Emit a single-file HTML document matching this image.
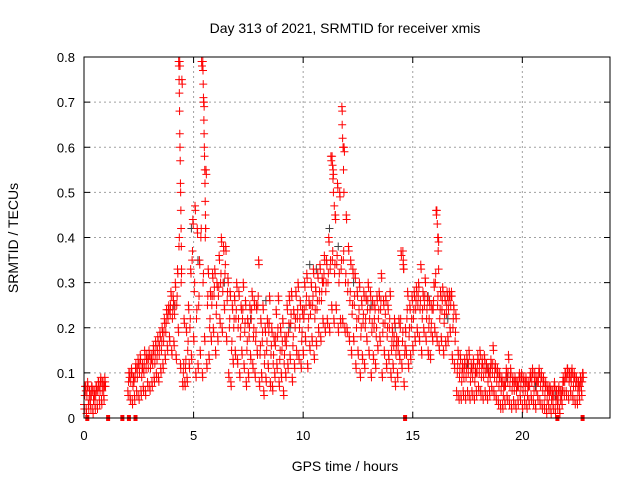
<!DOCTYPE html>
<html><head><meta charset="utf-8"><style>
body{margin:0;background:#fff}
svg{display:block;font-family:"Liberation Sans",sans-serif}
</style></head><body>
<svg id="chart" width="640" height="480" viewBox="0 0 640 480">
<rect width="640" height="480" fill="#fff"/>
<text x="345" y="33" font-size="14" text-anchor="middle">Day 313 of 2021, SRMTID for receiver xmis</text>
<text x="345" y="471" font-size="14" text-anchor="middle">GPS time / hours</text>
<text transform="translate(18,238) rotate(-90)" font-size="14" text-anchor="middle">SRMTID / TECUs</text>
<g id="grid"></g>
<g id="gray"></g>
<g id="red"></g>
<g id="zeros"></g>
<rect x="84" y="57" width="526" height="361" fill="none" stroke="#000" stroke-width="1"/>
<g id="axes"></g>
</svg>
<script>
const xTicks=[0,5,10,15,20];
const yTicks=[0,0.1,0.2,0.3,0.4,0.5,0.6,0.7,0.8];
const yLabels=["0","0.1","0.2","0.3","0.4","0.5","0.6","0.7","0.8"];
// red series: per-hour strings, each 0.1h sample "lo mid hi" in hundredths of TECU
const hourStarts=[0,2,3,4,5,6,7,8,9,10,11,12,13,14,15,16,17,18,19,20,21,22];
const redHours=[
"3 5 7;2 5 8;3 4 6;3 5 7;2 4 6;3 5 7;3 6 8;4 6 9;4 6 8;5 7 8",
"6 8 10;5 8 11;4 7 9;5 9 12;6 9 13;5 10 14;6 9 12;7 10 15;6 11 14;8 11 15",
"7 11 14;8 12 16;9 12 17;10 13 18;9 14 19;11 15 20;12 17 22;14 19 24;16 22 25;18 23 28",
"15 22 27;17 23 30;14 25 33;20 38 79;12 30 75;8 10 22;8 11 20;9 15 25;12 20 33;14 35 44",
"18 28 47;10 22 42;12 25 35;15 40 79;10 30 70;18 40 55;12 25 33;14 20 28;18 25 32;20 27 33",
"15 23 30;18 27 36;22 30 40;20 28 38;25 32 38;18 26 31;10 20 28;8 15 25;13 20 27;15 22 30",
"13 20 28;10 18 25;15 22 30;12 19 26;8 15 22;10 18 25;14 22 28;12 18 26;10 17 25;15 25 35",
"8 14 22;10 17 25;6 12 20;9 15 22;12 19 27;8 14 20;7 12 18;10 16 24;12 18 27;8 13 20",
"10 15 22;6 12 18;10 16 25;12 19 27;14 21 28;9 16 24;12 20 28;15 22 30;14 20 26;12 17 24",
"15 22 30;18 25 32;12 20 26;16 23 30;18 25 33;14 22 29;17 24 32;20 26 34;18 26 31;22 30 36",
"20 28 35;22 30 40;20 33 58;25 35 55;22 32 45;25 34 52;20 30 50;22 33 69;22 35 60;20 30 45",
"20 28 38;18 26 35;15 23 33;18 25 32;12 20 28;15 22 30;10 18 26;14 21 28;12 20 27;18 24 30",
"15 22 28;10 19 26;14 20 25;12 18 27;16 22 28;18 24 32;10 19 26;15 21 27;12 18 25;14 20 28",
"10 15 20;12 16 22;8 14 18;10 15 22;14 20 37;12 17 34;8 14 20;15 22 28;12 18 25;14 20 27",
"16 22 28;18 24 29;20 25 30;18 24 34;15 22 28;20 25 31;18 22 27;15 20 26;14 19 25;18 24 30",
"20 30 46;18 25 40;16 22 28;18 24 29;15 21 27;17 23 28;18 24 28;20 25 28;14 20 25;12 17 23",
"6 10 15;5 9 14;5 8 12;6 9 13;5 9 14;6 10 15;5 8 12;6 9 13;5 8 11;6 10 14",
"7 10 15;6 9 13;5 9 14;6 10 12;5 8 11;6 9 13;7 10 16;6 9 12;5 8 11;4 7 10",
"3 6 9;3 5 8;4 7 11;5 8 14;4 7 11;3 6 9;4 6 9;3 6 8;4 7 10;5 7 10",
"3 6 9;4 6 9;3 5 8;4 7 10;5 8 11;4 6 10;3 6 9;5 8 11;4 7 10;3 6 9",
"3 5 8;2 4 7;3 5 7;2 4 6;3 5 8;2 4 6;3 4 7;2 4 6;4 6 9;6 8 10",
"6 9 11;5 8 10;6 8 11;5 7 10;4 7 9;4 6 8;5 7 9;6 8 10"
];
// extra spike points (hours, TECU)
const spikeTimes=[4.32,4.33,4.34,4.35,4.36,4.37,4.38,4.39,4.40,4.41,4.42,4.43,4.44,4.45,
 5.42,5.43,5.44,5.45,5.46,5.47,5.48,5.49,5.50,5.51,5.52,5.53,5.54,5.55,
 11.32,11.34,11.36,11.38,11.42,11.46,11.78,11.80,11.82,11.84,11.86,
 16.10,16.12,16.14,16.16,16.18,14.55,14.57,14.59];
const spikeVals=[0.79,0.78,0.75,0.72,0.68,0.63,0.60,0.57,0.52,0.50,0.46,0.42,0.38,0.33,
 0.79,0.77,0.74,0.71,0.70,0.66,0.63,0.60,0.58,0.55,0.52,0.48,0.45,0.42,
 0.58,0.56,0.53,0.50,0.47,0.45,0.65,0.62,0.60,0.55,0.50,
 0.46,0.43,0.40,0.37,0.33,0.37,0.35,0.33];
const grayTimes=[4.1,4.9,5.2,6.4,7.6,8.3,9.4,10.3,10.6,11.2,11.6,12.3,13.1,14.2,15.7,16.6,17.5,18.4,19.3,20.6,21.5];
const grayVals=[0.25,0.42,0.35,0.3,0.22,0.26,0.2,0.34,0.33,0.42,0.38,0.3,0.25,0.2,0.27,0.22,0.12,0.11,0.09,0.07,0.05];
const zeroTimes=[0.15,1.1,1.75,2.05,2.35,14.65,21.6,22.75];

const X0=84,X1=610,Y0=418,Y1=57,XMAX=24,YMAX=0.8;
const xs=t=>X0+(X1-X0)*t/XMAX;
const ys=v=>Y0-(Y0-Y1)*v/YMAX;
const NS="http://www.w3.org/2000/svg";
function mk(tag,attrs,parent){const e=document.createElementNS(NS,tag);for(const k in attrs)e.setAttribute(k,attrs[k]);parent.appendChild(e);return e;}
const grid=document.getElementById('grid'),axes=document.getElementById('axes');
xTicks.forEach((t,i)=>{
  const x=xs(t);
  if(t>0){const g=mk('line',{x1:x,y1:Y0,x2:x,y2:Y1,stroke:'#a0a0a0','stroke-dasharray':'2,3'},grid);
  
  }
  mk('line',{x1:x,y1:Y0,x2:x,y2:Y0-6,stroke:'#000'},axes);
  mk('line',{x1:x,y1:Y1,x2:x,y2:Y1+6,stroke:'#000'},axes);
  const l=mk('text',{x:x,y:Y0+22,'font-size':13,'text-anchor':'middle'},axes);
  l.textContent=String(t);
  
  
});
yTicks.forEach((v,i)=>{
  const y=ys(v);
  if(v>0&&v<YMAX){const g=mk('line',{x1:X0,y1:y,x2:X1,y2:y,stroke:'#a0a0a0','stroke-dasharray':'2,3'},grid);
  
  }
  mk('line',{x1:X0,y1:y,x2:X0+6,y2:y,stroke:'#000'},axes);
  mk('line',{x1:X1,y1:y,x2:X1-6,y2:y,stroke:'#000'},axes);
  const l=mk('text',{x:X0-9,y:y+5,'font-size':13,'text-anchor':'end'},axes);
  l.textContent=yLabels[i];
  
  
});
function plus(g,t,v,col,name){
  const x=xs(t),y=ys(v);
  const p=mk('path',{d:`M${x-4},${y}h8M${x},${y-4}v8`,stroke:col,'stroke-width':1,fill:'none'},g);
  
  
}
const grayG=document.getElementById('gray');
grayTimes.forEach((t,i)=>plus(grayG,t,grayVals[i],'#404040','gray-point'));
const redG=document.getElementById('red');
redHours.forEach((s,h)=>{
  s.split(';').forEach((trip,j)=>{
    trip.trim().split(' ').map(Number).forEach((v,k)=>{
      const t=hourStarts[h]+j*0.1+k*0.033;
      plus(redG,t,v/100,'#ff0000','red-point');
      plus(redG,t+0.016,(v+ (k===1?2:-1))/100,'#ff0000','red-point');
    });
  });
});
spikeTimes.forEach((t,i)=>plus(redG,t,spikeVals[i],'#ff0000','red-spike-point'));
const zg=document.getElementById('zeros');
zeroTimes.forEach(t=>{
  const r=mk('rect',{x:xs(t)-2,y:Y0-3,width:4,height:6,fill:'#ff0000'},zg);
  
  
});
</script>
</body></html>
